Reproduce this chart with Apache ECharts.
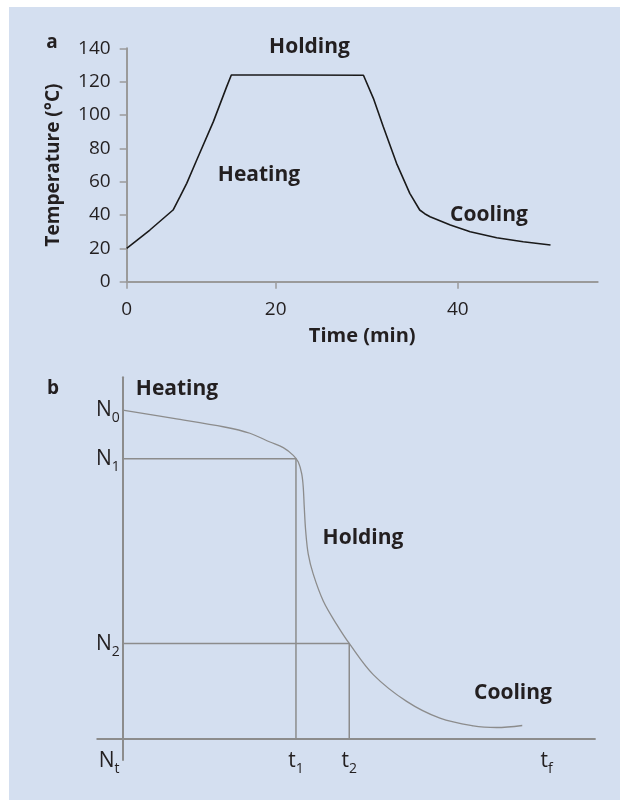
<!DOCTYPE html>
<html>
<head>
<meta charset="utf-8">
<script src="https://cdn.jsdelivr.net/npm/echarts@6/dist/echarts.min.js"></script>
<style>
html,body{margin:0;padding:0;background:#ffffff;}
#c{width:620px;height:800px;}
</style>
</head>
<body>
<div id="c"></div>
<script>
// ---- Panel a: temperature profile ----
const timeMin = [0, 2.8, 5.6, 6.44, 7.25, 8.46, 10.47, 12.08, 12.64, 20, 28.6, 29.8, 31.0, 32.6, 34.2, 35.4, 36.0, 36.65, 39.1, 41.5, 44.7, 47.9, 51.2];
const tempC   = [20, 31, 43, 51, 59, 73, 96, 117, 124, 124, 123.8, 110, 93, 71, 53, 43, 40.8, 39, 34, 30, 26.4, 24, 22];
const aXTickPos = [0, 18, 40];
const aXTickLabels = ['0', '20', '40'];

// ---- Panel b: survivor curve (schematic) ----
const survT = [0, 1.2, 2.4, 3.0, 3.474, 3.788, 4.024, 4.142, 4.222, 4.259, 4.283, 4.316, 4.377, 4.495, 4.731, 5.047, 5.344, 5.91, 6.698, 7.483, 8.269, 8.821, 9.425];
const survN = [10, 9.75, 9.49, 9.30, 9.034, 8.864, 8.629, 8.425, 8.072, 7.664, 7.055, 6.345, 5.635, 5.026, 4.213, 3.503, 2.924, 1.98, 1.167, 0.658, 0.426, 0.375, 0.436];
const bYTickPos = [10, 8.53, 2.92];
const bYTickLabels = [['N', '0'], ['N', '1'], ['N', '2']];
const bXTickPos = [0, 4.087, 5.344, 10];
const bXTickLabels = [['N', 't'], ['t', '1'], ['t', '2'], ['t', 'f']];
const n1Level = 8.53, t1Time = 4.087;
const n2Level = 2.92, t2Time = 5.344;

const FONT = '"Open Sans", "DejaVu Sans", sans-serif';
const TXT = '#231f20';
const AX_A = '#9a9a9a';
const GRAY_B = '#8c8c8c';

const subRich = {
  m: { fontFamily: FONT, fontSize: 21, color: TXT, lineHeight: 22 },
  s: { fontFamily: FONT, fontSize: 14, color: TXT, lineHeight: 14, padding: [16, 0, 0, 0] },
  sl: { fontFamily: FONT, fontSize: 14, color: TXT, lineHeight: 14, padding: [16, 27, 0, 0] }
};
const subFmt = (pos, labels) => v => {
  const i = pos.indexOf(v);
  const l = labels[i];
  const key = (pos === bXTickPos && i === 0) ? 'sl' : 's';
  return '{m|' + l[0] + '}{' + key + '|' + l[1] + '}';
};

const chart = echarts.init(document.getElementById('c'), null, { renderer: 'canvas' });

const boldText = (x, y, text, size) => ({
  type: 'text', x: x, y: y,
  style: { text: text, font: 'bold ' + size + 'px ' + FONT, fill: TXT, align: 'center', verticalAlign: 'middle' }
});

const option = {
  backgroundColor: '#ffffff',
  animation: false,
  graphic: [
    { type: 'rect', z: -10, shape: { x: 9, y: 7, width: 611, height: 793 }, style: { fill: '#d4dff0' } },
    boldText(52, 43, 'a', 19),
    boldText(309.5, 47, 'Holding', 21),
    boldText(259, 175, 'Heating', 21),
    boldText(489, 215, 'Cooling', 21),
    boldText(53, 389, 'b', 19),
    boldText(177, 389, 'Heating', 21),
    boldText(363, 538, 'Holding', 21),
    boldText(513, 693, 'Cooling', 21)
  ],
  grid: [
    { left: 126.7, top: 48.3, width: 471, height: 233.4 },
    { left: 97.26, top: 377.2, width: 497.7, height: 382.8 }
  ],
  xAxis: [
    {
      type: 'value', gridIndex: 0, min: 0, max: 56.9,
      name: 'Time (min)', nameLocation: 'middle', nameGap: 45,
      nameTextStyle: { fontFamily: FONT, fontSize: 20, fontWeight: 'bold', color: TXT },
      axisLine: { show: true, lineStyle: { color: AX_A, width: 2 } },
      axisTick: { show: true, length: 7, lineStyle: { color: AX_A, width: 1.5 }, customValues: aXTickPos },
      axisLabel: {
        customValues: aXTickPos, margin: 18,
        fontFamily: FONT, fontSize: 19, color: TXT,
        formatter: v => aXTickLabels[aXTickPos.indexOf(v)]
      },
      splitLine: { show: false }
    },
    {
      type: 'value', gridIndex: 1, min: -0.6, max: 11.14, offset: -21.7,
      axisLine: { show: true, onZero: false, lineStyle: { color: GRAY_B, width: 2 } },
      axisTick: { show: false },
      axisLabel: { customValues: bXTickPos, margin: 12, formatter: subFmt(bXTickPos, bXTickLabels), rich: subRich },
      splitLine: { show: false }
    }
  ],
  yAxis: [
    {
      type: 'value', gridIndex: 0, min: 0, max: 140, interval: 20,
      name: 'Temperature (°C)', nameLocation: 'middle', nameGap: 64,
      nameTextStyle: { fontFamily: FONT, fontSize: 19, fontWeight: 'bold', color: TXT },
      axisLine: { show: true, lineStyle: { color: AX_A, width: 2 } },
      axisTick: { show: true, length: 7, lineStyle: { color: AX_A, width: 1.5 } },
      axisLabel: { margin: 16, fontFamily: FONT, fontSize: 19, color: TXT, formatter: v => String(v) },
      splitLine: { show: false }
    },
    {
      type: 'value', gridIndex: 1, min: -0.61, max: 11, offset: -25.44,
      axisLine: { show: true, onZero: false, lineStyle: { color: GRAY_B, width: 2 } },
      axisTick: { show: false },
      axisLabel: { customValues: bYTickPos, margin: 3, formatter: subFmt(bYTickPos, bYTickLabels), rich: subRich },
      splitLine: { show: false }
    }
  ],
  series: [
    {
      type: 'line', xAxisIndex: 0, yAxisIndex: 0, showSymbol: false, smooth: false,
      data: timeMin.map((t, i) => [t, tempC[i]]),
      lineStyle: { color: '#1a1a1a', width: 1.6 }
    },
    {
      type: 'line', xAxisIndex: 1, yAxisIndex: 1, showSymbol: false,
      data: [[0, n1Level], [t1Time, n1Level], [t1Time, 0]],
      lineStyle: { color: GRAY_B, width: 1.5 }
    },
    {
      type: 'line', xAxisIndex: 1, yAxisIndex: 1, showSymbol: false,
      data: [[0, n2Level], [t2Time, n2Level], [t2Time, 0]],
      lineStyle: { color: GRAY_B, width: 1.5 }
    },
    {
      type: 'line', xAxisIndex: 1, yAxisIndex: 1, showSymbol: false, smooth: 0.35,
      data: survT.map((t, i) => [t, survN[i]]),
      lineStyle: { color: GRAY_B, width: 1.3 }
    }
  ]
};
chart.setOption(option);
</script>
</body>
</html>
